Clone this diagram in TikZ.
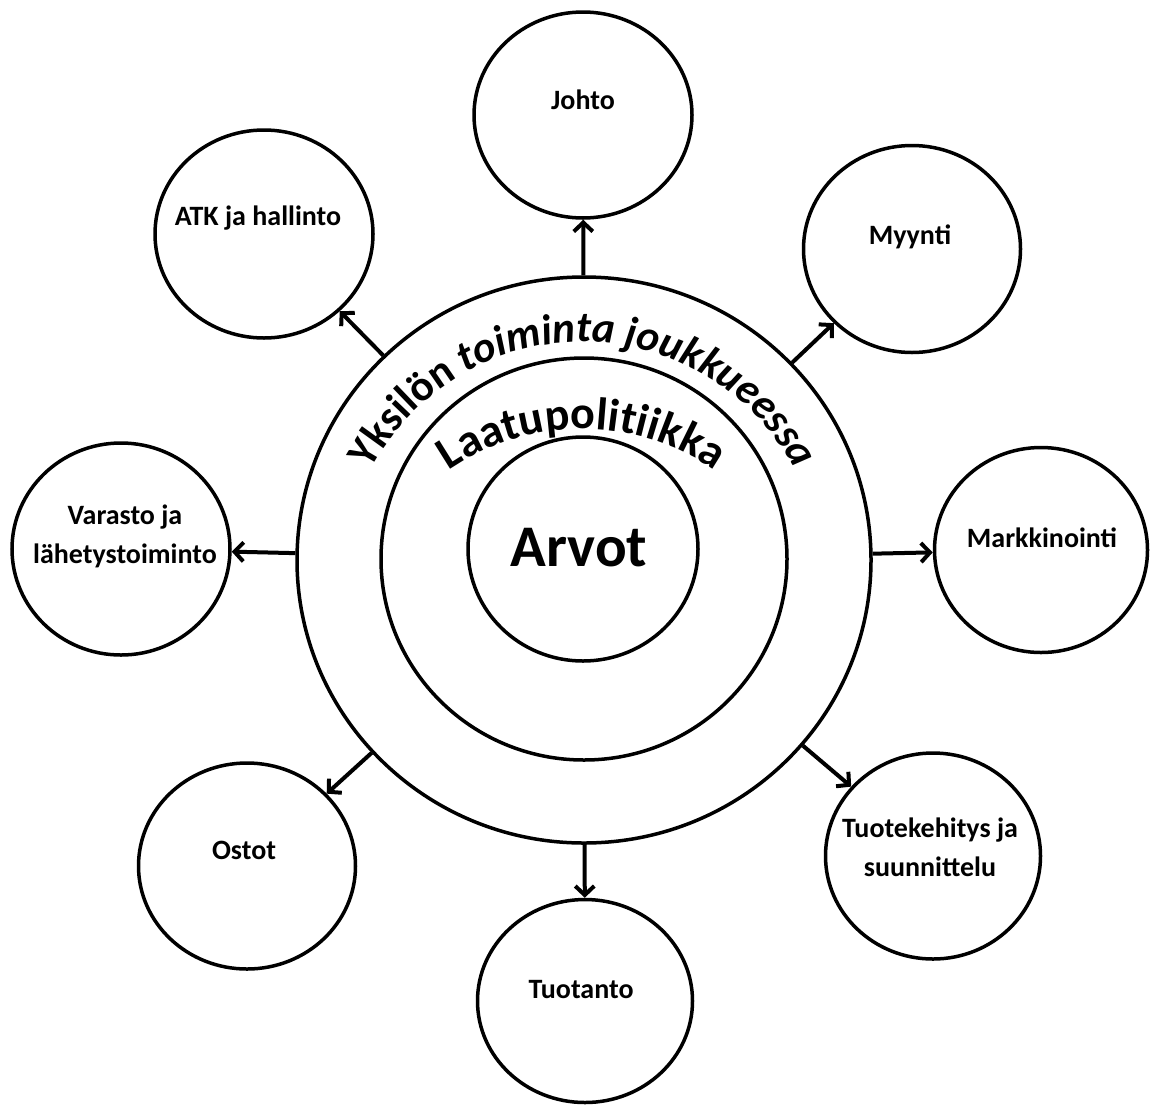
\documentclass[tikz,border=0pt]{standalone}
\usepackage{fontspec}
\setmainfont{Carlito}
\usetikzlibrary{shapes.geometric,arrows.meta,decorations.text}
\begin{document}
\begin{tikzpicture}[x=1pt,y=1pt,
  ring/.style={draw, ellipse, line width=3.5pt, inner sep=0pt},
  sat/.style={ring},
  lab/.style={font=\fontsize{28}{39}\selectfont\bfseries, align=center, inner sep=0pt},
  arr/.style={line width=4pt, -{Straight Barb[length=9pt,width=19pt]}}]
\useasboundingbox (0,0) rectangle (1155,-1106);
\fill[white] (0,0) rectangle (1155,-1106);

% central rings
\node[ring, minimum width=574pt, minimum height=566pt] (outer) at (584,-560) {};
\node[ring, minimum width=406pt, minimum height=402pt] (middle) at (584,-559) {};
\node[ring, minimum width=230pt, minimum height=224pt] (inner) at (583,-549) {};
\node[font=\fontsize{59}{59}\selectfont\bfseries, inner sep=0pt] (arvot) at (579,-548) {Arvot};

% curved texts
\path[decorate, decoration={text along path, text align=center,
  text={|\fontsize{43}{43}\selectfont\bfseries|Yksilön |\fontsize{43}{43}\selectfont\bfseries\itshape|toiminta joukkueessa}}]
  (583,-582) ++(170:240) arc[start angle=170, end angle=10, radius=240];
\path[decorate, decoration={text along path, text align=center,
  text={|\fontsize{46}{46}\selectfont\bfseries|Laatupolitiikka}}]
  (582,-664) ++(150:235) arc[start angle=150, end angle=30, radius=235];

% satellites
\node[sat, minimum width=218pt, minimum height=206pt] (johto) at (583,-115) {};
\node[sat, minimum width=218pt, minimum height=208pt] (atk) at (264,-234) {};
\node[sat, minimum width=217pt, minimum height=207pt] (myynti) at (912,-249) {};
\node[sat, minimum width=218pt, minimum height=212pt] (varasto) at (121,-549) {};
\node[sat, minimum width=213pt, minimum height=205pt] (markk) at (1041,-550) {};
\node[sat, minimum width=217pt, minimum height=206pt] (ostot) at (247,-866) {};
\node[sat, minimum width=215pt, minimum height=203pt] (tuotanto) at (585,-1001) {};
\node[sat, minimum width=215pt, minimum height=206pt] (tuotek) at (933,-856) {};

% labels
\node[lab] (johtoT) at (583,-100) {Johto};
\node[lab] (atkT) at (258,-218) {ATK ja hallinto};
\node[lab] (myyntiT) at (910,-237) {Myynti};
\node[lab] (varastoT) at (125,-536) {Varasto ja\\lähetystoiminto};
\node[lab] (markkT) at (1042,-538) {Markkinointi};
\node[lab] (ostotT) at (244,-850) {Ostot};
\node[lab] (tuotantoT) at (581,-990) {Tuotanto};
\node[lab] (tuotekT) at (930,-847) {Tuotekehitys ja\\suunnittelu};

% arrows
\draw[arr] (outer) -- (johto);
\draw[arr] (outer) -- (atk);
\draw[arr] (outer) -- (myynti);
\draw[arr] (outer) -- (varasto);
\draw[arr] (outer) -- (markk);
\draw[arr] (outer) -- (ostot);
\draw[arr] (outer) -- (tuotanto);
\draw[arr] (outer) -- (tuotek);
\end{tikzpicture}
\end{document}
